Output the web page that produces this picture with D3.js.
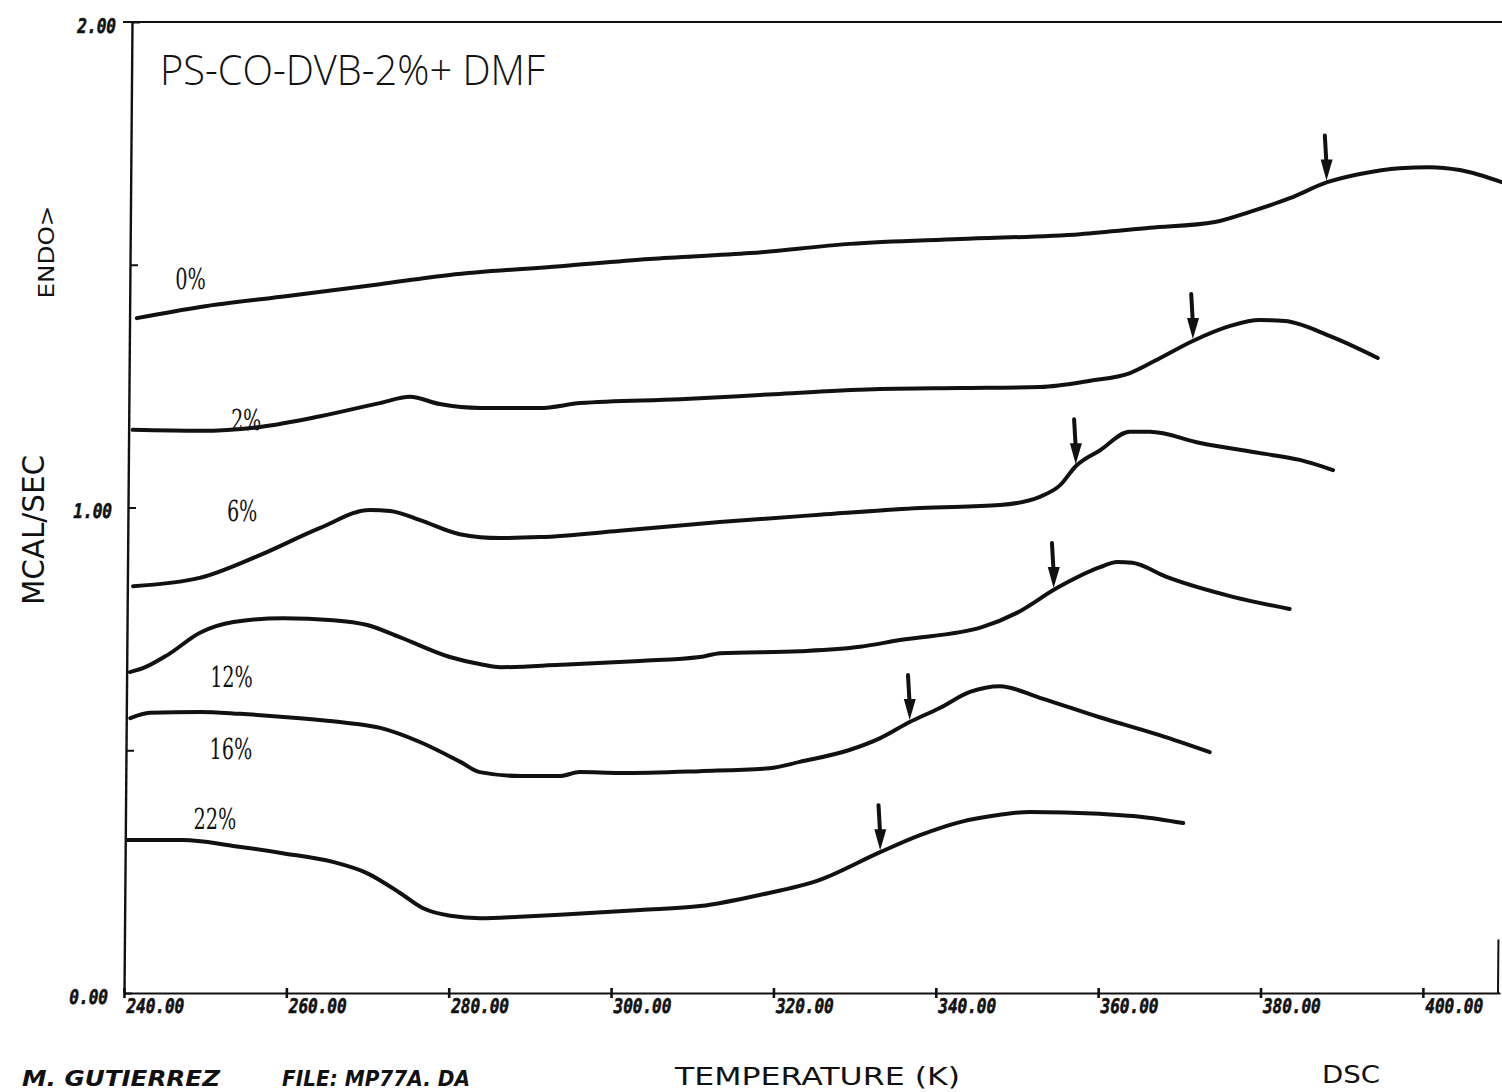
<!DOCTYPE html>
<html>
<head>
<meta charset="utf-8">
<script src="https://cdn.jsdelivr.net/npm/d3@7"></script>
<style>
  html, body { margin: 0; padding: 0; background: #fff; }
  svg { display: block; }
</style>
</head>
<body>
<svg id="chart" width="1502" height="1092"></svg>
<script>
// DSC traces of PS-co-DVB (2%) swollen with DMF: [temperature K, heat flow mcal/s]
const seriesLabels = ["0%", "2%", "6%", "12%", "16%", "22%"];

const trace0 = [[240.9,1.390],[248.7,1.413],[259.7,1.436],[270.8,1.460],[279.4,1.479],[293.0,1.497],[304.0,1.512],[316.4,1.524],[328.7,1.543],[342.2,1.553],[357.0,1.563],[365.6,1.576],[373.6,1.588],[377.9,1.609],[382.8,1.637],[387.4,1.670],[391.4,1.687],[396.3,1.699],[400.0,1.701],[403.7,1.695],[408.9,1.670]];
const trace2 = [[240.5,1.160],[248.8,1.158],[256.2,1.166],[263.6,1.188],[270.9,1.215],[274.6,1.228],[278.3,1.213],[283.3,1.205],[290.6,1.205],[295.6,1.215],[307.9,1.223],[320.2,1.234],[332.5,1.244],[342.4,1.246],[352.2,1.248],[358.4,1.261],[363.3,1.277],[367.0,1.308],[371.0,1.343],[375.6,1.374],[379.2,1.386],[382.3,1.384],[387.9,1.353],[393.8,1.308]];
const trace6 = [[240.7,0.838],[248.9,0.855],[256.3,0.902],[263.7,0.958],[269.8,0.995],[272.3,0.993],[276.0,0.974],[280.9,0.945],[285.9,0.937],[290.8,0.939],[300.6,0.952],[312.9,0.970],[325.2,0.985],[337.6,0.999],[347.4,1.005],[352.3,1.022],[354.8,1.046],[356.7,1.085],[359.7,1.118],[363.3,1.156],[365.8,1.156],[372.0,1.133],[379.4,1.112],[384.3,1.098],[388.4,1.077]];
const trace12 = [[240.4,0.661],[242.0,0.669],[245.0,0.696],[249.0,0.742],[253.1,0.764],[259.2,0.772],[265.4,0.768],[269.6,0.758],[273.6,0.733],[279.8,0.692],[283.9,0.676],[286.0,0.671],[293.4,0.676],[303.2,0.684],[310.6,0.692],[313.1,0.700],[322.9,0.704],[330.3,0.713],[335.2,0.727],[345.4,0.754],[349.6,0.783],[354.5,0.834],[359.8,0.877],[361.9,0.888],[363.8,0.886],[368.0,0.857],[376.2,0.816],[383.2,0.791]];
const trace16 = [[240.5,0.566],[242.9,0.577],[249.1,0.579],[254.0,0.575],[261.4,0.566],[266.3,0.558],[271.3,0.546],[276.2,0.517],[281.2,0.476],[283.6,0.455],[288.6,0.447],[293.5,0.447],[295.9,0.455],[300.9,0.453],[310.7,0.457],[319.3,0.463],[323.0,0.476],[329.2,0.501],[332.9,0.525],[336.5,0.558],[340.2,0.587],[343.9,0.620],[347.6,0.632],[352.5,0.608],[359.9,0.568],[367.3,0.531],[373.5,0.496]];
const trace22 = [[240.2,0.315],[247.1,0.315],[253.3,0.303],[259.4,0.288],[265.6,0.270],[269.8,0.247],[273.9,0.206],[276.7,0.175],[280.1,0.159],[283.8,0.154],[288.7,0.157],[293.6,0.161],[303.5,0.171],[310.9,0.179],[318.2,0.202],[325.6,0.233],[333.0,0.290],[337.9,0.325],[342.8,0.352],[347.7,0.367],[351.4,0.373],[360.0,0.369],[365.0,0.363],[370.3,0.350]];

// Glass-transition temperatures marked by arrows (K), one per trace
const transitionT = [387.3, 371.0, 356.7, 354.1, 336.5, 333.0];

// Axis ticks
const xTicks = [240, 260, 280, 300, 320, 340, 360, 380, 400];
const yTicks = [0, 0.5, 1, 1.5, 2];
const yTickLabels = ["0.00", "", "1.00", "", "2.00"];

const traces = [trace0, trace2, trace6, trace12, trace16, trace22];

// Where each trace's percentage label sits, in data units
const labelAnchor = [[245.6,1.450],[252.6,1.160],[252.2,0.972],[250.3,0.630],[250.3,0.482],[248.4,0.338]];

const svg = d3.select("#chart");
const ink = "#111";

const x = d3.scaleLinear().domain([240, 409.5]).range([124, 1500]);
const y = d3.scaleLinear().domain([0, 2]).range([993, 22]);
const y0 = y(0);

// The plotted frame leans slightly to the right towards the top
const plot = svg.append("g")
  .attr("transform", `translate(0,${y0}) skewX(-0.472) translate(0,${-y0})`);

// Top border and short right edge
plot.append("line")
  .attr("x1", x(240) - 9).attr("x2", x.range()[1])
  .attr("y1", y(2)).attr("y2", y(2))
  .attr("stroke", ink).attr("stroke-width", 2.2);
plot.append("line")
  .attr("x1", x.range()[1] - 2).attr("x2", x.range()[1] - 2)
  .attr("y1", y(0)).attr("y2", y(0.11))
  .attr("stroke", ink).attr("stroke-width", 2);

const tickFont = "'DejaVu Sans Mono', monospace";

// X axis
const xAxis = plot.append("g")
  .attr("transform", `translate(0,${y0})`)
  .call(d3.axisBottom(x).tickValues(xTicks).tickSize(5).tickSizeOuter(0)
    .tickFormat(d => d.toFixed(2)));
xAxis.select(".domain").attr("stroke", ink).attr("stroke-width", 2.2);
xAxis.selectAll(".tick line").attr("y1", -5).attr("stroke", ink).attr("stroke-width", 2.6);
xAxis.selectAll(".tick text")
  .attr("fill", ink)
  .attr("stroke", ink)
  .attr("stroke-width", 0.6)
  .attr("font-family", tickFont)
  .attr("font-weight", "bold")
  .attr("font-style", "italic")
  .attr("font-size", 20)
  .attr("y", 0)
  .attr("dy", 0)
  .attr("text-anchor", "middle")
  .attr("transform", "translate(31,20) scale(0.8,1)")
  .attr("x", 0);

// Y axis
const yAxis = plot.append("g")
  .attr("transform", `translate(${x(240)},0)`)
  .call(d3.axisLeft(y).tickValues(yTicks).tickSize(8).tickSizeOuter(0)
    .tickFormat((d, i) => yTickLabels[i]));
yAxis.select(".domain").attr("stroke", ink).attr("stroke-width", 2.4);
yAxis.selectAll(".tick line").attr("x2", 8).attr("stroke", ink).attr("stroke-width", 2);
yAxis.selectAll(".tick text")
  .attr("fill", ink)
  .attr("stroke", ink)
  .attr("stroke-width", 0.6)
  .attr("font-family", tickFont)
  .attr("font-weight", "bold")
  .attr("font-style", "italic")
  .attr("font-size", 20)
  .attr("x", 0)
  .attr("dy", "0.4em")
  .attr("text-anchor", "end")
  .attr("transform", "translate(-16,2) scale(0.8,1)");

// Traces
const line = d3.line()
  .x(d => x(d[0]))
  .y(d => y(d[1]))
  .curve(d3.curveMonotoneX);

plot.append("g").selectAll("path")
  .data(traces)
  .join("path")
  .attr("d", line)
  .attr("fill", "none")
  .attr("stroke", ink)
  .attr("stroke-width", 4)
  .attr("stroke-linejoin", "round")
  .attr("stroke-linecap", "round");

// Value of a trace at temperature t (linear between readings)
function valueAt(trace, t) {
  const i = d3.bisector(d => d[0]).left(trace, t);
  if (i <= 0) return trace[0][1];
  if (i >= trace.length) return trace[trace.length - 1][1];
  const a = trace[i - 1], b = trace[i];
  return a[1] + (b[1] - a[1]) * (t - a[0]) / (b[0] - a[0]);
}

// Transition arrows pointing down onto each trace
const arrows = plot.append("g");
traces.forEach((tr, i) => {
  const t = transitionT[i];
  const px = x(t), py = y(valueAt(tr, t)) - 2;
  arrows.append("line")
    .attr("x1", px - 2).attr("x2", px)
    .attr("y1", py - 45).attr("y2", py - 14)
    .attr("stroke", ink).attr("stroke-width", 4).attr("stroke-linecap", "round");
  arrows.append("path")
    .attr("d", `M${px - 6},${py - 21} L${px + 6},${py - 21} L${px},${py} Z`)
    .attr("fill", ink);
});

// Percentage labels
plot.append("g").selectAll("text")
  .data(seriesLabels)
  .join("text")
  .attr("transform", (d, i) => `translate(${x(labelAnchor[i][0])},${y(labelAnchor[i][1])}) scale(0.66,1)`)
  .attr("font-family", "'DejaVu Serif', serif")
  .attr("font-size", 29)
  .attr("fill", ink)
  .text(d => d);

// Title
svg.append("text")
  .attr("x", 160).attr("y", 85)
  .attr("font-family", "'Open Sans', 'DejaVu Sans', sans-serif")
  .attr("font-weight", 300)
  .attr("font-size", 43)
  .attr("textLength", 385)
  .attr("lengthAdjust", "spacingAndGlyphs")
  .attr("fill", ink)
  .text("PS-CO-DVB-2%+ DMF");

// Vertical axis titles
svg.append("text")
  .attr("transform", "translate(44,530) rotate(-90)")
  .attr("text-anchor", "middle")
  .attr("font-family", "'DejaVu Sans', sans-serif")
  .attr("font-size", 30)
  .attr("textLength", 150)
  .attr("lengthAdjust", "spacingAndGlyphs")
  .attr("fill", ink)
  .text("MCAL/SEC");

svg.append("text")
  .attr("transform", "translate(54,252) rotate(-90)")
  .attr("text-anchor", "middle")
  .attr("font-family", "'DejaVu Sans', sans-serif")
  .attr("font-size", 21)
  .attr("textLength", 93)
  .attr("lengthAdjust", "spacingAndGlyphs")
  .attr("fill", ink)
  .text("ENDO>");

// Footer
const footerItalic = "'DejaVu Sans', sans-serif";
svg.append("text")
  .attr("x", 22).attr("y", 1086)
  .attr("font-family", footerItalic)
  .attr("font-style", "italic")
  .attr("font-weight", "bold")
  .attr("font-size", 21)
  .attr("textLength", 198)
  .attr("lengthAdjust", "spacingAndGlyphs")
  .attr("fill", ink)
  .text("M.  GUTIERREZ");

svg.append("text")
  .attr("x", 282).attr("y", 1086)
  .attr("font-family", footerItalic)
  .attr("font-style", "italic")
  .attr("font-weight", "bold")
  .attr("font-size", 21)
  .attr("textLength", 188)
  .attr("lengthAdjust", "spacingAndGlyphs")
  .attr("fill", ink)
  .text("FILE: MP77A. DA");

svg.append("text")
  .attr("x", 675).attr("y", 1085)
  .attr("font-family", "'DejaVu Sans', sans-serif")
  .attr("font-size", 25)
  .attr("textLength", 285)
  .attr("lengthAdjust", "spacingAndGlyphs")
  .attr("fill", ink)
  .text("TEMPERATURE  (K)");

svg.append("text")
  .attr("x", 1322).attr("y", 1083)
  .attr("font-family", "'DejaVu Sans', sans-serif")
  .attr("font-size", 25)
  .attr("textLength", 58)
  .attr("lengthAdjust", "spacingAndGlyphs")
  .attr("fill", ink)
  .text("DSC");
</script>
</body>
</html>
